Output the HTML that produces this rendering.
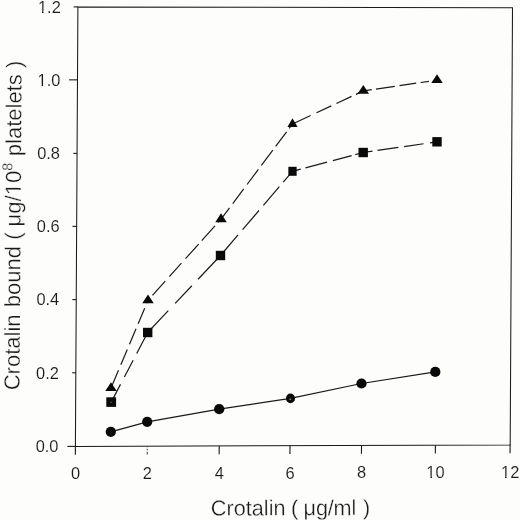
<!DOCTYPE html>
<html lang="en"><head><meta charset="utf-8"><title>Crotalin binding</title>
<style>html,body{margin:0;padding:0;background:#fdfdfb;}body{width:520px;height:520px;overflow:hidden;}svg{display:block;}text{font-family:"Liberation Sans",sans-serif;fill:#1a1a1a;}</style>
</head><body>
<svg width="520" height="520" viewBox="0 0 520 520">
<defs><clipPath id="k1"><path clip-rule="evenodd" d="M-300,-300H300V300H-300Z M-8.31,-2.13H-4.89V0.95H-8.31Z M-3.45,-2.13H0.06V0.95H-3.45Z"/></clipPath><clipPath id="k2"><path clip-rule="evenodd" d="M-300,-300H300V300H-300Z M-8.31,-2.13H-4.89V0.95H-8.31Z M-3.45,-2.13H0.06V0.95H-3.45Z"/></clipPath><clipPath id="k3"><path clip-rule="evenodd" d="M-300,-300H300V300H-300Z M-21.49,-2.13H-18.06V0.95H-21.49Z M-16.62,-2.13H-13.12V0.95H-16.62Z"/></clipPath><clipPath id="k4"><path clip-rule="evenodd" d="M-300,-300H300V300H-300Z M-21.49,-2.13H-18.06V0.95H-21.49Z M-16.62,-2.13H-13.12V0.95H-16.62Z"/></clipPath><clipPath id="k5"><path clip-rule="evenodd" d="M-300,-300H300V300H-300Z M185.32,-2.97H190.1V1.32H185.32Z M192.1,-2.97H196.98V1.32H192.1Z"/></clipPath></defs>
<rect x="0" y="0" width="520" height="520" fill="#fdfdfb"/>
<polygon points="77.9,6.9 512.5,7.8 510.2,444.9 75.4,446.4" fill="none" stroke="#1a1a1a" stroke-width="1.05"/>
<g stroke="#1a1a1a" stroke-width="1.1" fill="none">
<line x1="75.4" y1="446.4" x2="75.35" y2="454.7"/>
<line x1="147.3" y1="446.15" x2="147.25" y2="454.45" stroke="#4a4a4a" stroke-dasharray="1.2 1.4 1.4 1.6 3"/>
<line x1="219.2" y1="445.9" x2="219.15" y2="454.2"/>
<line x1="290" y1="445.66" x2="289.95" y2="453.96"/>
<line x1="361.5" y1="445.41" x2="361.45" y2="453.71"/>
<line x1="435.4" y1="445.16" x2="435.35" y2="453.46"/>
<line x1="510.1" y1="444.9" x2="510.05" y2="453.2"/>
<line x1="75.4" y1="446.4" x2="67.3" y2="446.4"/>
<line x1="75.82" y1="372.8" x2="72.22" y2="372.8"/>
<line x1="76.24" y1="299.6" x2="72.34" y2="299.6"/>
<line x1="76.65" y1="226.4" x2="72.45" y2="226.4"/>
<line x1="77.07" y1="153.4" x2="73.27" y2="153.4"/>
<line x1="77.49" y1="79.85" x2="69.09" y2="79.85"/>
<line x1="77.9" y1="6.9" x2="73.6" y2="6.9"/>
</g>
<g font-size="15.8px" stroke="#fdfdfb" stroke-width="0.1">
<text transform="translate(75.5,479.3) scale(1.04,1)" text-anchor="middle">0</text>
<text transform="translate(147.4,479.05) scale(1.04,1)" text-anchor="middle">2</text>
<text transform="translate(219.3,478.8) scale(1.04,1)" text-anchor="middle">4</text>
<text transform="translate(290.1,478.56) scale(1.04,1)" text-anchor="middle">6</text>
<text transform="translate(361.6,478.31) scale(1.04,1)" text-anchor="middle">8</text>
<text transform="translate(435.5,478.06) scale(1.04,1)" text-anchor="middle" clip-path="url(#k1)">10</text>
<text transform="translate(510.2,477.8) scale(1.04,1)" text-anchor="middle" clip-path="url(#k2)">12</text>
<text transform="translate(58.5,452.25) scale(1.04,1)" text-anchor="end">0.0</text>
<text transform="translate(58.88,378.65) scale(1.04,1)" text-anchor="end">0.2</text>
<text transform="translate(59.26,305.45) scale(1.04,1)" text-anchor="end">0.4</text>
<text transform="translate(59.64,232.25) scale(1.04,1)" text-anchor="end">0.6</text>
<text transform="translate(60.02,159.25) scale(1.04,1)" text-anchor="end">0.8</text>
<text transform="translate(60.41,85.7) scale(1.04,1)" text-anchor="end" clip-path="url(#k3)">1.0</text>
<text transform="translate(60.79,12.75) scale(1.04,1)" text-anchor="end" clip-path="url(#k4)">1.2</text>
</g>
<g font-size="21.7px" transform="rotate(-0.2 290 515)" stroke="#fdfdfb" stroke-width="0.3">
<text x="210.8" y="515.3" word-spacing="-0.5">Crotalin (</text>
<text x="303.6" y="515.3" letter-spacing="-0.2" word-spacing="1.2">μg/ml )</text>
</g>
<g font-size="22px" transform="translate(19.6,380) rotate(-89.62)" stroke="#fdfdfb" stroke-width="0.3">
<text x="-10.3" y="0">Crotalin</text>
<text x="72.8" y="0">bound</text>
<text x="140.2" y="0" clip-path="url(#k5)">( μg/10<tspan font-size="14.3px" dy="-8.7">8</tspan></text>
<text x="223.8" y="0">platelets</text>
<text x="311.9" y="0">)</text>
</g>
<g fill="none" stroke="#1a1a1a" stroke-width="1.2">
<line x1="111" y1="388" x2="148" y2="300.4" stroke-dasharray="19.3 6 16.5 5.7 16.8 5.5 16.8 5.4 4 50"/>
<line x1="148" y1="300.4" x2="221" y2="219.2" stroke-dasharray="1 5.7 19.1 6.1 18.1 6.1 19.7 4.6 19.7 4.9 5 50"/>
<line x1="221" y1="219.2" x2="292.5" y2="124" stroke-dasharray="14.2 5.4 18.2 5.6 18.8 5 19.1 4.7 18.3 4.2 6.5 50"/>
<line x1="292.5" y1="124" x2="363.3" y2="90.9" stroke-dasharray="20 6.5 16.3 5.7 16.7 4.8 9 50"/>
<line x1="363.3" y1="90.9" x2="437" y2="80.1" stroke-dasharray="8.6 4.2 19 4.8 16.9 4.5 8.3 50"/>
<line x1="111.2" y1="402.1" x2="147.7" y2="332.5" stroke-dasharray="20 8.3 19 7.6 24.1 50"/>
<line x1="147.7" y1="332.5" x2="220.5" y2="255.5" stroke-dasharray="30 10 24.3 9 33.7 50"/>
<line x1="220.5" y1="255.5" x2="292.5" y2="171.3" stroke-dasharray="27 7 25.2 6.8 24.5 6 14.5 50"/>
<line x1="292.5" y1="171.3" x2="363.2" y2="152.5" stroke-dasharray="8.5 4.9 22.4 6 19.4 3.8 9 50"/>
<line x1="363.2" y1="152.5" x2="437" y2="141.8" stroke-dasharray="9.4 5.1 21 5.9 19.6 6.5 7.5 50"/>
<polyline points="110.8,431.8 147.2,421.8 219.2,409.2 290.5,398.4 361.5,383.5 435.3,371.9"/>
</g>
<g fill="#0a0a0a">
<polygon points="111,382.13 105.25,390.93 116.75,390.93"/>
<polygon points="148,294.53 142.25,303.33 153.75,303.33"/>
<polygon points="221,213.33 215.25,222.13 226.75,222.13"/>
<polygon points="292.5,118.13 287.4,126.93 297.6,126.93"/>
<polygon points="363.3,85.03 357.55,93.83 369.05,93.83"/>
<polygon points="437,74.23 431.25,83.03 442.75,83.03"/>
<rect x="106.3" y="397.3" width="9.8" height="9.6"/>
<rect x="143" y="327.8" width="9.4" height="9.4"/>
<rect x="215.8" y="250.8" width="9.4" height="9.4"/>
<rect x="288.35" y="166.8" width="8.3" height="9"/>
<rect x="358.5" y="147.8" width="9.4" height="9.4"/>
<rect x="432.3" y="137.1" width="9.4" height="9.4"/>
<ellipse cx="110.8" cy="431.8" rx="5.15" ry="5.1"/>
<ellipse cx="147.2" cy="421.8" rx="5.15" ry="5.1"/>
<ellipse cx="219.2" cy="409.2" rx="5.15" ry="5.1"/>
<ellipse cx="290.5" cy="398.4" rx="4.5" ry="4.9"/>
<ellipse cx="361.5" cy="383.5" rx="5.15" ry="5.1"/>
<ellipse cx="435.3" cy="371.9" rx="5.15" ry="5.1"/>
</g>
<ellipse cx="290.3" cy="399.3" rx="0.9" ry="0.7" fill="#9a9a9a"/>
<circle cx="111.1" cy="402.3" r="0.7" fill="#6a6a6a"/>
</svg></body></html>
